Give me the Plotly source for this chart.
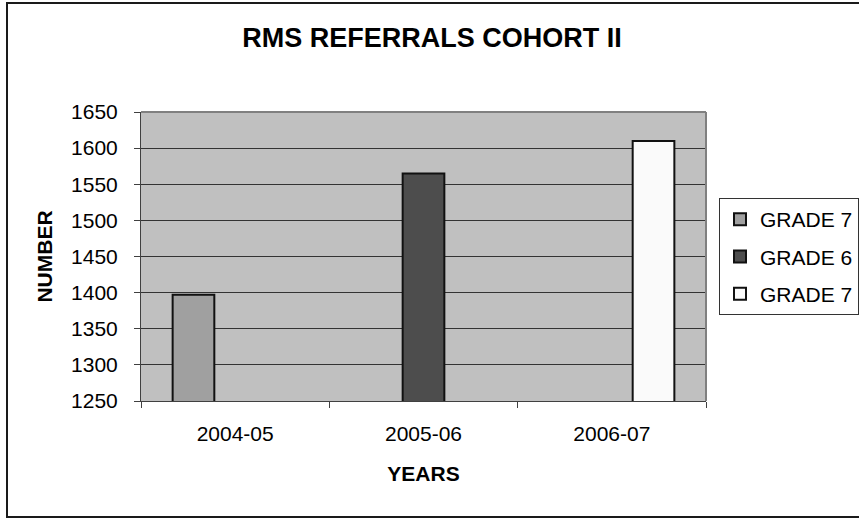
import plotly.graph_objects as go

# Referral counts per school year; each grade cohort series has one year.
years = ["2004-05", "2005-06", "2006-07"]
series_names = ["GRADE 7", "GRADE 6", "GRADE 7"]
referrals = [1397, 1565, 1610]
fill_colors = ["#A0A0A0", "#4D4D4D", "#FAFAFA"]
y_ticks = [1250, 1300, 1350, 1400, 1450, 1500, 1550, 1600, 1650]

W, H = 859, 518
ML, MR, MT, MB = 141, 153, 112, 117
PW, PH = W - ML - MR, H - MT - MB

FONT = "Liberation Sans, Arial, sans-serif"


def px_x(px):
    return (px - ML) / PW


def px_y(py):
    return (H - MB - py) / PH


fig = go.Figure()
for i, (name, color) in enumerate(zip(series_names, fill_colors)):
    values = [referrals[j] if j == i else None for j in range(len(years))]
    fig.add_trace(go.Bar(
        x=years,
        y=values,
        name=name,
        legendgroup=f"s{i}",
        marker=dict(color=color, line=dict(color="#111111", width=2)),
    ))

fig.update_layout(
    width=W,
    height=H,
    margin=dict(l=ML, r=MR, t=MT, b=MB, autoexpand=False),
    paper_bgcolor="white",
    plot_bgcolor="#C0C0C0",
    barmode="group",
    bargap=0.336,
    bargroupgap=0,
    font=dict(family=FONT, size=21, color="black"),
    title=dict(
        text="RMS REFERRALS COHORT II",
        font=dict(family=FONT, size=27, weight="bold", color="black"),
        x=432 / W, xref="container", xanchor="center",
        y=1 - 38 / H, yref="container", yanchor="middle",
    ),
    showlegend=True,
    legend=dict(
        x=719 / W, y=1 - 198 / H, xref="container", yref="container",
        xanchor="left", yanchor="top",
        bgcolor="white", bordercolor="#333333", borderwidth=1,
        font=dict(family=FONT, size=21, color="black"),
        traceorder="grouped", tracegroupgap=7,
    ),
    xaxis=dict(
        type="category",
        showgrid=False,
        showline=True, linecolor="#404040", linewidth=1,
        ticks="outside", tickson="boundaries", ticklen=6, tickcolor="#404040",
        ticklabelstandoff=14,
        tickfont=dict(family=FONT, size=21),
        title=dict(text="YEARS", font=dict(family=FONT, size=21, weight="bold"), standoff=22),
    ),
    yaxis=dict(
        range=[1250, 1650],
        tickvals=y_ticks,
        showgrid=True, gridcolor="#333333", gridwidth=1,
        showline=True, linecolor="#404040", linewidth=1,
        ticks="outside", ticklen=6, tickcolor="#404040",
        ticklabelstandoff=12,
        tickfont=dict(family=FONT, size=21),
        zeroline=False,
        title=dict(text="NUMBER", font=dict(family=FONT, size=21, weight="bold"), standoff=12),
    ),
    shapes=[
        # plot area frame (top and right edges)
        dict(type="line", xref="paper", yref="paper", x0=0, x1=1, y0=1, y1=1,
             line=dict(color="#808080", width=2)),
        dict(type="line", xref="paper", yref="paper", x0=1, x1=1, y0=0, y1=1,
             line=dict(color="#808080", width=2)),
        # chart border
        dict(type="rect", xref="paper", yref="paper",
             x0=px_x(7), x1=px_x(880), y0=px_y(517), y1=px_y(3),
             line=dict(color="#1A1A1A", width=2), fillcolor="rgba(0,0,0,0)"),
    ],
)

fig.write_html("out.html")
